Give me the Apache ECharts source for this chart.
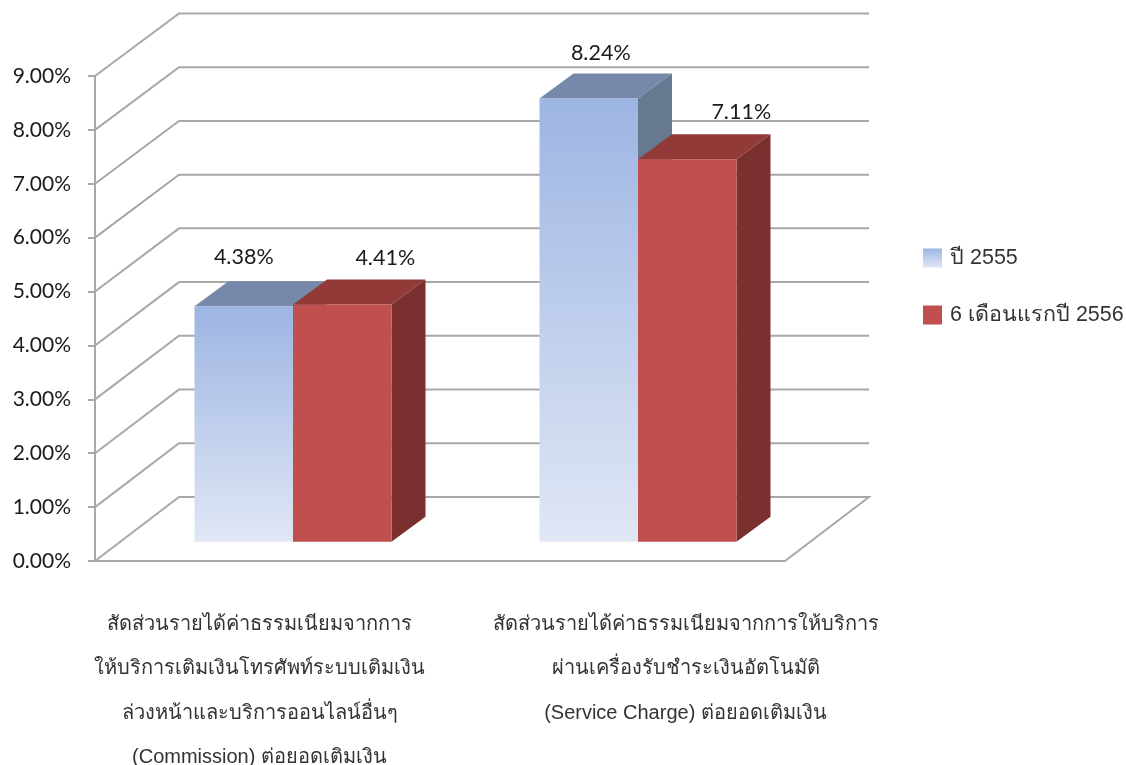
<!DOCTYPE html>
<html>
<head>
<meta charset="utf-8">
<script src="https://cdn.jsdelivr.net/npm/echarts@6/dist/echarts.min.js"></script>
<style>
  html, body { margin: 0; padding: 0; background: #fff; }
  #grafico { width: 1126px; height: 765px; }
</style>
</head>
<body>
<div id="grafico"></div>
<script>
var categories = [
  'สัดส่วนรายได้ค่าธรรมเนียมจากการ\nให้บริการเติมเงินโทรศัพท์ระบบเติมเงิน\nล่วงหน้าและบริการออนไลน์อื่นๆ\n(Commission) ต่อยอดเติมเงิน',
  'สัดส่วนรายได้ค่าธรรมเนียมจากการให้บริการ\nผ่านเครื่องรับชำระเงินอัตโนมัติ\n(Service Charge) ต่อยอดเติมเงิน'
];
var yTicks = [0, 1, 2, 3, 4, 5, 6, 7, 8, 9];
var year2555 = [4.38, 8.24];
var firstHalf2556 = [4.41, 7.11];

var THAI_FONT = '"Liberation Sans", "Noto Sans", sans-serif';
var NUM_FONT = 'Lato, "Open Sans", sans-serif';

// depth of the 3d box, in pixels
var WALL_DX = 84, WALL_DY = -64, WALL_SCALE = 0.997;
var BAR_DX = 34, BAR_DY = -25, BAR_SCALE = 0.998;
var BAR_LIFT = -19.3, BAR_W = 98.5, CLUSTER_SHIFT = 25.5;

// where the value labels sit relative to the top of each bar
var blueLabelNudge = [[0, -49], [12, -45]];
var redLabelNudge = [[43, -46], [54, -47]];
var catLabelShift = [-8, 73];

var blueFront = new echarts.graphic.LinearGradient(0, 0, 0, 1, [
  { offset: 0, color: '#9db5e3' },
  { offset: 1, color: '#e0e7f5' }
]);

function wallItem(params, api) {
  var t = api.value(0);
  var x0 = params.coordSys.x;
  var x1 = params.coordSys.x + params.coordSys.width;
  var zero = api.coord([0, 0])[1];
  var y = api.coord([0, t])[1];
  var yBack = zero + WALL_DY - (zero - y) * WALL_SCALE;
  var pts = [[x0, y], [x0 + WALL_DX, yBack], [x1 + WALL_DX, yBack]];
  if (t === 0) pts.push([x1, y]);
  return {
    type: 'polyline',
    shape: { points: pts },
    style: { stroke: '#a8a8a8', lineWidth: 2, fill: null }
  };
}

function barItem(side, colors, nudges) {
  return function (params, api) {
    var i = api.value(0);
    var zero = api.coord([i, 0]);
    var top = api.coord([i, api.value(1)]);
    var mid = zero[0] + CLUSTER_SHIFT;
    var xa = side < 0 ? mid - BAR_W : mid;
    var xb = xa + BAR_W;
    var yb = zero[1] + BAR_LIFT;
    var yt = yb - (zero[1] - top[1]) * BAR_SCALE;
    return {
      type: 'group',
      children: [
        {
          type: 'polygon',
          shape: { points: [[xa, yt], [xa + BAR_DX, yt + BAR_DY], [xb + BAR_DX, yt + BAR_DY], [xb, yt]] },
          style: { fill: colors.top }
        },
        {
          type: 'polygon',
          shape: { points: [[xb, yt], [xb + BAR_DX, yt + BAR_DY], [xb + BAR_DX, yb + BAR_DY], [xb, yb]] },
          style: { fill: colors.side }
        },
        {
          type: 'rect',
          shape: { x: xa, y: yt, width: BAR_W, height: yb - yt },
          style: { fill: colors.front }
        },
        {
          type: 'text',
          style: {
            x: (xa + xb) / 2 + nudges[i][0],
            y: yt + nudges[i][1],
            text: api.value(1).toFixed(2) + '%',
            align: 'center',
            verticalAlign: 'middle',
            font: '21.5px ' + NUM_FONT,
            fill: '#1a1a1a'
          }
        }
      ]
    };
  };
}

function catLabelItem(params, api) {
  var i = api.value(0);
  var c = api.coord([i, 0]);
  return {
    type: 'text',
    style: {
      x: c[0] + catLabelShift[i],
      y: c[1] + 41,
      text: categories[i],
      align: 'center',
      verticalAlign: 'top',
      font: '20px ' + THAI_FONT,
      lineHeight: 44.5,
      fill: '#333'
    }
  };
}

function pairs(values) {
  return values.map(function (v, i) { return [i, v]; });
}

var myChart = echarts.init(document.getElementById('grafico'));
var option = {
  animation: false,
  backgroundColor: '#fff',
  grid: { left: 95, width: 690, top: 76, height: 485 },
  legend: {
    orient: 'vertical',
    left: 923,
    top: 247,
    padding: 0,
    itemWidth: 19,
    itemHeight: 19,
    itemGap: 35,
    textStyle: { fontFamily: THAI_FONT, fontSize: 21.5, color: '#333', padding: [0, 0, 0, 3] },
    data: [
      { name: 'ปี 2555', icon: 'rect', itemStyle: { color: blueFront } },
      { name: '6 เดือนแรกปี 2556', icon: 'rect', itemStyle: { color: '#c0504d' } }
    ]
  },
  xAxis: {
    type: 'category',
    data: categories,
    axisLabel: { show: false },
    axisTick: { show: false },
    axisLine: { lineStyle: { color: '#a8a8a8', width: 2 } }
  },
  yAxis: {
    type: 'value',
    min: 0,
    max: 9,
    interval: 1,
    axisLine: { show: true, lineStyle: { color: '#a8a8a8', width: 2 } },
    axisTick: { show: true, length: 7, lineStyle: { color: '#a8a8a8', width: 2 } },
    axisLabel: {
      margin: 24,
      fontFamily: NUM_FONT,
      fontSize: 21,
      color: '#1a1a1a',
      padding: [3, 0, 0, 0],
      formatter: function (v) { return v.toFixed(2) + '%'; }
    },
    splitLine: { show: false }
  },
  series: [
    {
      name: 'wall',
      type: 'custom',
      silent: true,
      clip: false,
      encode: { x: 1, y: 0 },
      data: yTicks.map(function (t) { return [t, 0]; }),
      renderItem: wallItem
    },
    {
      name: 'ปี 2555',
      type: 'custom',
      clip: false,
      encode: { x: 0, y: 1 },
      itemStyle: { color: '#9db5e3' },
      data: pairs(year2555),
      renderItem: barItem(-1, { front: blueFront, top: '#7689ab', side: '#677891' }, blueLabelNudge)
    },
    {
      name: '6 เดือนแรกปี 2556',
      type: 'custom',
      clip: false,
      encode: { x: 0, y: 1 },
      itemStyle: { color: '#c0504d' },
      data: pairs(firstHalf2556),
      renderItem: barItem(1, { front: '#c0504d', top: '#923a37', side: '#7a302e' }, redLabelNudge)
    },
    {
      name: 'catLabels',
      type: 'custom',
      silent: true,
      clip: false,
      encode: { x: 0 },
      data: categories.map(function (c, i) { return [i]; }),
      renderItem: catLabelItem
    }
  ]
};
option && myChart.setOption(option);
</script>
</body>
</html>
